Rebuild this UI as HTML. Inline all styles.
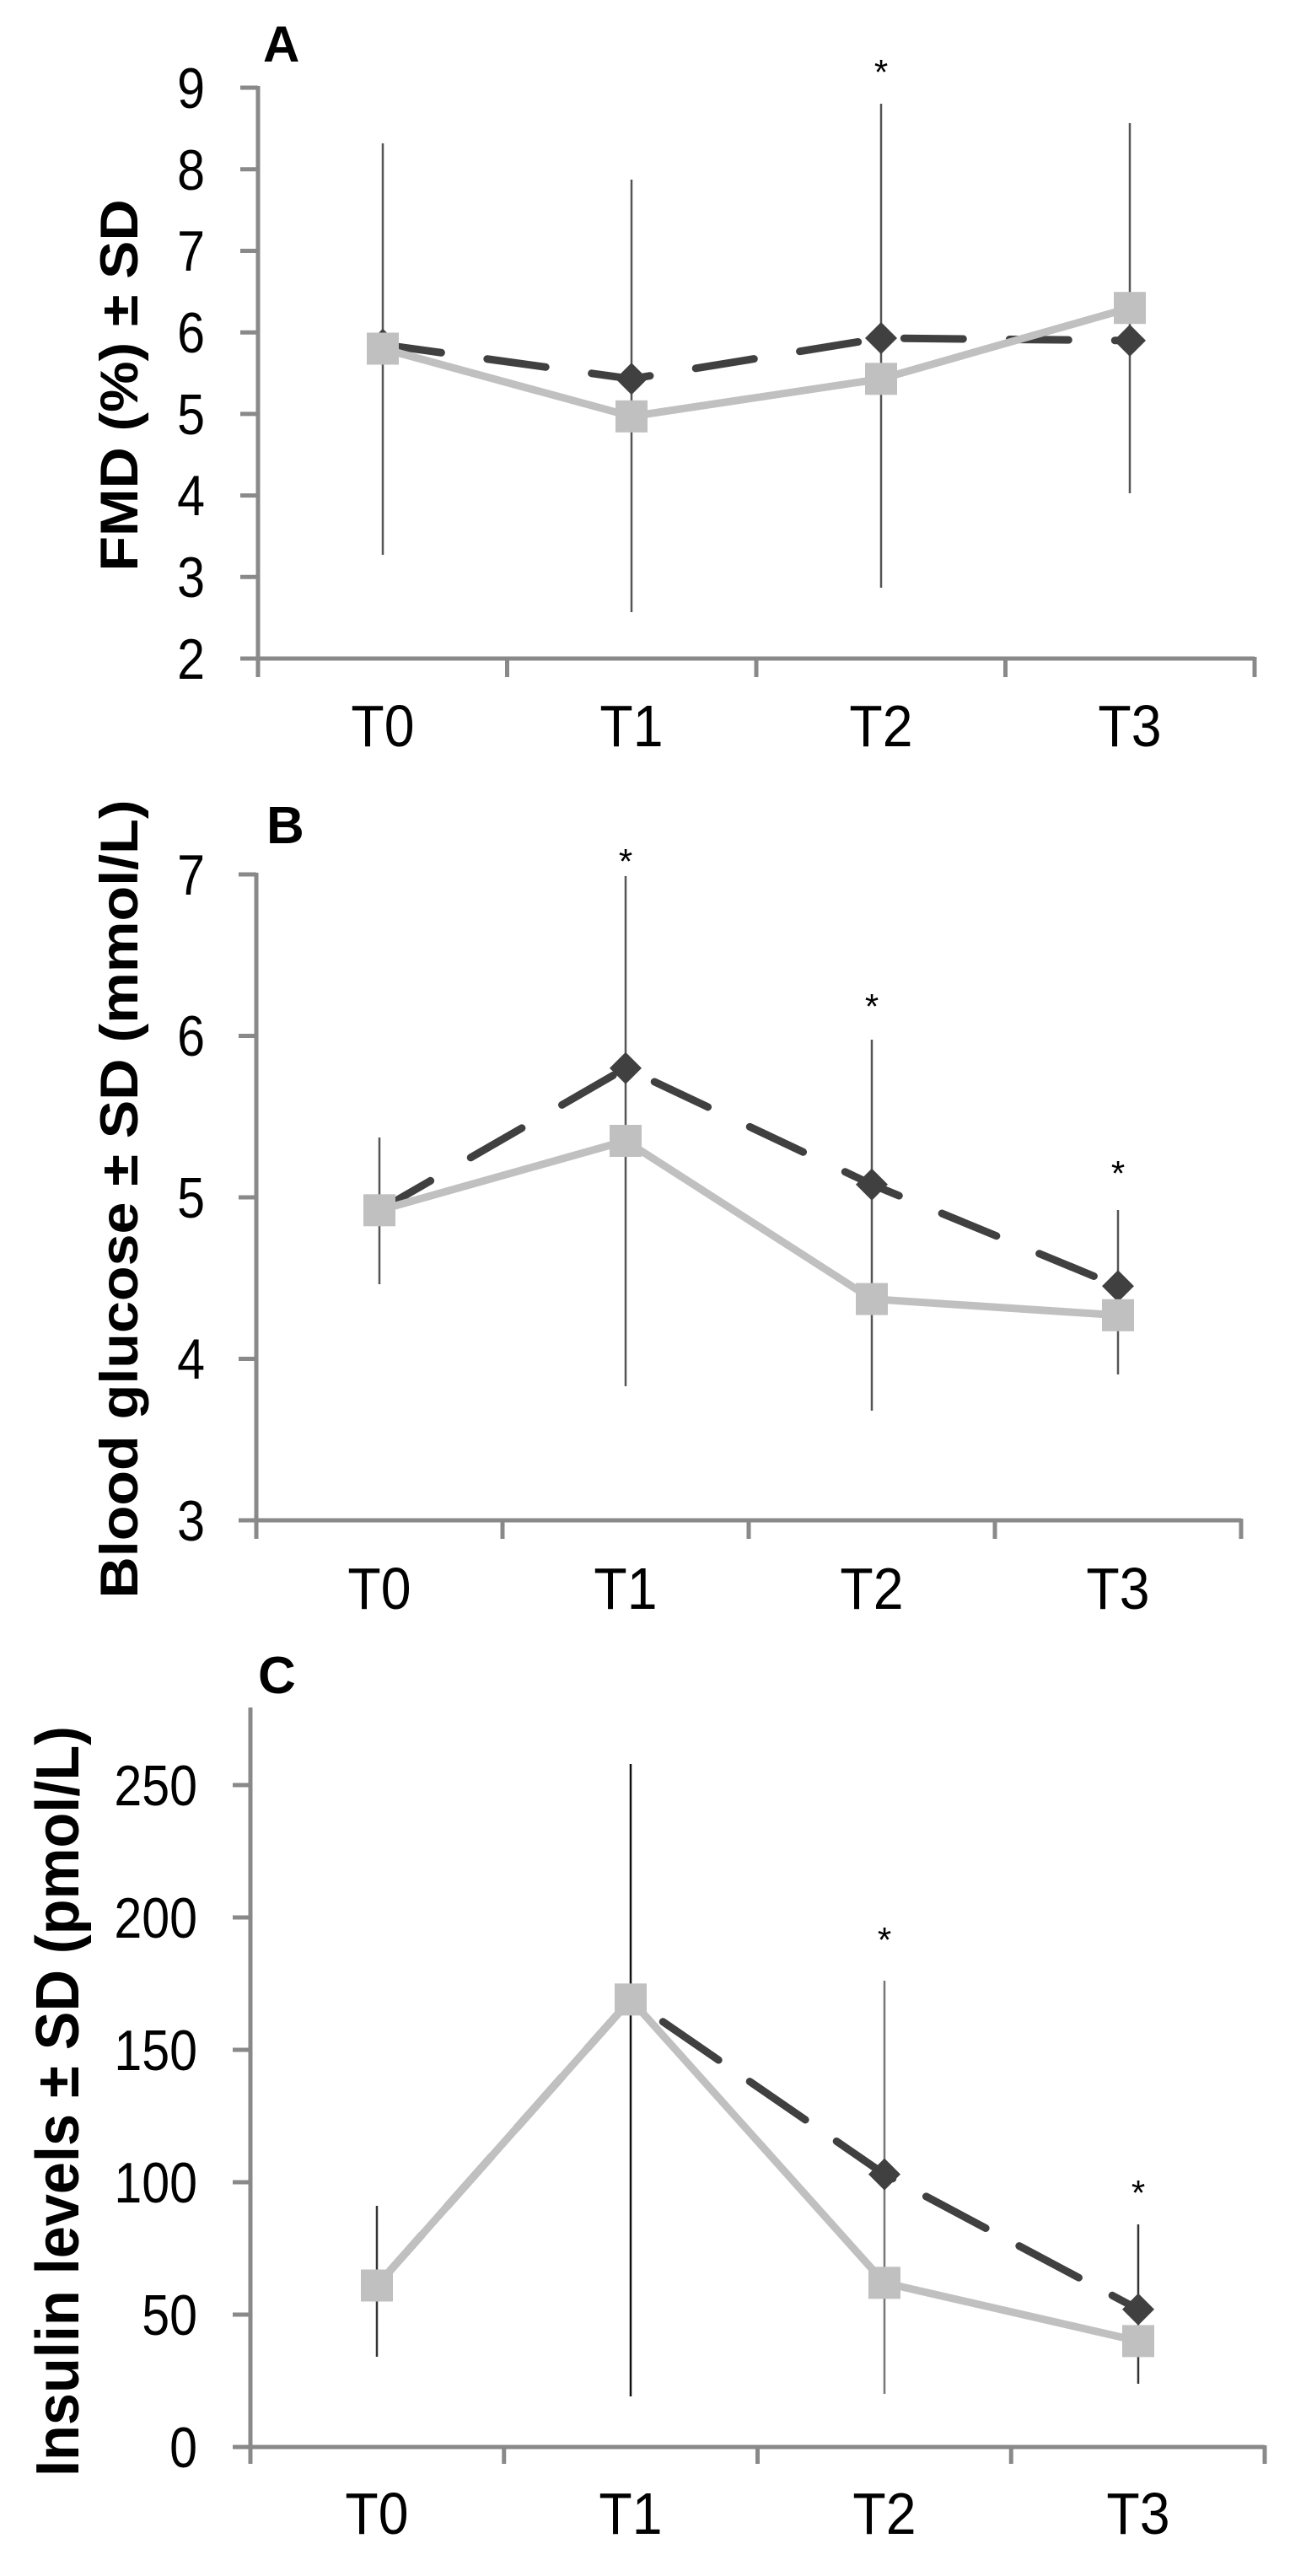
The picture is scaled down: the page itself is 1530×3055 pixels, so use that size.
<!DOCTYPE html>
<html><head><meta charset="utf-8"><style>html,body{margin:0;padding:0;background:#fff}svg{display:block}</style></head>
<body>
<svg width="1530" height="3055" viewBox="0 0 1530 3055" xmlns="http://www.w3.org/2000/svg" font-family="Liberation Sans, Arial, sans-serif">
<rect width="1530" height="3055" fill="#fff"/>

<!-- ===== PANEL A ===== -->
<g stroke="#898989" stroke-width="5" fill="none">
<line x1="306" y1="102" x2="306" y2="803"/>
<line x1="285" y1="781" x2="1488" y2="781"/>
<line x1="285" y1="104" x2="306" y2="104"/>
<line x1="285" y1="200.8" x2="306" y2="200.8"/>
<line x1="285" y1="297.5" x2="306" y2="297.5"/>
<line x1="285" y1="394.2" x2="306" y2="394.2"/>
<line x1="285" y1="490.9" x2="306" y2="490.9"/>
<line x1="285" y1="587.6" x2="306" y2="587.6"/>
<line x1="285" y1="684.3" x2="306" y2="684.3"/>
<line x1="601.5" y1="781" x2="601.5" y2="803"/>
<line x1="897" y1="781" x2="897" y2="803"/>
<line x1="1192.5" y1="781" x2="1192.5" y2="803"/>
<line x1="1488" y1="779" x2="1488" y2="803"/>
</g>
<g font-size="68" text-anchor="end" fill="#000">
<text transform="translate(243,128) scale(0.87,1)">9</text><text transform="translate(243,225) scale(0.87,1)">8</text><text transform="translate(243,321) scale(0.87,1)">7</text>
<text transform="translate(243,418) scale(0.87,1)">6</text><text transform="translate(243,515) scale(0.87,1)">5</text><text transform="translate(243,611) scale(0.87,1)">4</text>
<text transform="translate(243,708) scale(0.87,1)">3</text><text transform="translate(243,805) scale(0.87,1)">2</text>
</g>
<g font-size="70" text-anchor="middle" fill="#000">
<text transform="translate(454,885) scale(0.92,1)">T0</text><text transform="translate(749,885) scale(0.92,1)">T1</text><text transform="translate(1045,885) scale(0.92,1)">T2</text><text transform="translate(1340,885) scale(0.92,1)">T3</text>
</g>
<text x="312" y="73" font-size="60" font-weight="bold">A</text>
<text transform="translate(163,457) rotate(-90)" text-anchor="middle" font-size="63" font-weight="bold" textLength="441" lengthAdjust="spacingAndGlyphs">FMD (%) ± SD</text>
<g stroke="#555" stroke-width="2.5">
<line x1="454" y1="170" x2="454" y2="658"/>
<line x1="749" y1="213" x2="749" y2="726"/>
<line x1="1045" y1="123" x2="1045" y2="697"/>
<line x1="1340" y1="146" x2="1340" y2="585"/>
</g>
<polyline points="454,408.7 749,449.3 1045,401 1340,403.9" fill="none" stroke="#404040" stroke-width="9" stroke-dasharray="70,55" stroke-linecap="round"/>
<g fill="#404040">
<polygon points="454,389.7 473,408.7 454,427.7 435,408.7"/>
<polygon points="749,430.3 768,449.3 749,468.3 730,449.3"/>
<polygon points="1045,382 1064,401 1045,420 1026,401"/>
<polygon points="1340,384.9 1359,403.9 1340,422.9 1321,403.9"/>
</g>
<polyline points="454,413.5 749,493.8 1045,449.3 1340,365.2" fill="none" stroke="#c0c0c0" stroke-width="9"/>
<g fill="#c0c0c0">
<rect x="435" y="394.5" width="38" height="38"/>
<rect x="730" y="474.8" width="38" height="38"/>
<rect x="1026" y="430.3" width="38" height="38"/>
<rect x="1321" y="346.2" width="38" height="38"/>
</g>
<text x="1045" y="100" font-size="42" text-anchor="middle">*</text>

<!-- ===== PANEL B ===== -->
<g stroke="#898989" stroke-width="5" fill="none">
<line x1="304" y1="1035" x2="304" y2="1825"/>
<line x1="283" y1="1803" x2="1472" y2="1803"/>
<line x1="283" y1="1037" x2="304" y2="1037"/>
<line x1="283" y1="1228.5" x2="304" y2="1228.5"/>
<line x1="283" y1="1420" x2="304" y2="1420"/>
<line x1="283" y1="1611.5" x2="304" y2="1611.5"/>
<line x1="596" y1="1803" x2="596" y2="1825"/>
<line x1="888" y1="1803" x2="888" y2="1825"/>
<line x1="1180" y1="1803" x2="1180" y2="1825"/>
<line x1="1472" y1="1801" x2="1472" y2="1825"/>
</g>
<g font-size="68" text-anchor="end" fill="#000">
<text transform="translate(243,1061) scale(0.87,1)">7</text><text transform="translate(243,1252) scale(0.87,1)">6</text><text transform="translate(243,1444) scale(0.87,1)">5</text>
<text transform="translate(243,1635) scale(0.87,1)">4</text><text transform="translate(243,1827) scale(0.87,1)">3</text>
</g>
<g font-size="70" text-anchor="middle" fill="#000">
<text transform="translate(450,1908) scale(0.92,1)">T0</text><text transform="translate(742,1908) scale(0.92,1)">T1</text><text transform="translate(1034,1908) scale(0.92,1)">T2</text><text transform="translate(1326,1908) scale(0.92,1)">T3</text>
</g>
<text x="316" y="1000" font-size="62" font-weight="bold">B</text>
<text transform="translate(163,1422) rotate(-90)" text-anchor="middle" font-size="63" font-weight="bold" textLength="947" lengthAdjust="spacingAndGlyphs">Blood glucose ± SD (mmol/L)</text>
<g stroke="#555" stroke-width="2.5">
<line x1="450" y1="1349" x2="450" y2="1523"/>
<line x1="742" y1="1039" x2="742" y2="1644"/>
<line x1="1034" y1="1233" x2="1034" y2="1673"/>
<line x1="1326" y1="1435" x2="1326" y2="1630"/>
</g>
<polyline points="450,1435.3 742,1266.8 1034,1404.7 1326,1525.3" fill="none" stroke="#404040" stroke-width="9" stroke-dasharray="70,55" stroke-linecap="round"/>
<g fill="#404040">
<polygon points="450,1416.3 469,1435.3 450,1454.3 431,1435.3"/>
<polygon points="742,1247.8 761,1266.8 742,1285.8 723,1266.8"/>
<polygon points="1034,1385.7 1053,1404.7 1034,1423.7 1015,1404.7"/>
<polygon points="1326,1506.3 1345,1525.3 1326,1544.3 1307,1525.3"/>
</g>
<polyline points="450,1435.3 742,1353 1034,1540.6 1326,1559.8" fill="none" stroke="#c0c0c0" stroke-width="9"/>
<g fill="#c0c0c0">
<rect x="431" y="1416.3" width="38" height="38"/>
<rect x="723" y="1334" width="38" height="38"/>
<rect x="1015" y="1521.6" width="38" height="38"/>
<rect x="1307" y="1540.8" width="38" height="38"/>
</g>
<g font-size="42" text-anchor="middle">
<text x="742" y="1036">*</text><text x="1034" y="1208">*</text><text x="1326" y="1406">*</text>
</g>

<!-- ===== PANEL C ===== -->
<g stroke="#898989" stroke-width="5" fill="none">
<line x1="297" y1="2025" x2="297" y2="2922"/>
<line x1="276" y1="2902" x2="1500" y2="2902"/>
<line x1="276" y1="2117" x2="297" y2="2117"/>
<line x1="276" y1="2274" x2="297" y2="2274"/>
<line x1="276" y1="2431" x2="297" y2="2431"/>
<line x1="276" y1="2588" x2="297" y2="2588"/>
<line x1="276" y1="2745" x2="297" y2="2745"/>
<line x1="597.75" y1="2902" x2="597.75" y2="2922"/>
<line x1="898.5" y1="2902" x2="898.5" y2="2922"/>
<line x1="1199.25" y1="2902" x2="1199.25" y2="2922"/>
<line x1="1500" y1="2900" x2="1500" y2="2922"/>
</g>
<g font-size="68" text-anchor="end" fill="#000">
<text transform="translate(234,2141) scale(0.87,1)">250</text><text transform="translate(234,2298) scale(0.87,1)">200</text><text transform="translate(234,2455) scale(0.87,1)">150</text>
<text transform="translate(234,2612) scale(0.87,1)">100</text><text transform="translate(234,2769) scale(0.87,1)">50</text><text transform="translate(234,2926) scale(0.87,1)">0</text>
</g>
<g font-size="70" text-anchor="middle" fill="#000">
<text transform="translate(447,3005) scale(0.92,1)">T0</text><text transform="translate(748,3005) scale(0.92,1)">T1</text><text transform="translate(1049,3005) scale(0.92,1)">T2</text><text transform="translate(1350,3005) scale(0.92,1)">T3</text>
</g>
<text x="306" y="2008" font-size="62" font-weight="bold">C</text>
<text transform="translate(93,2492) rotate(-90)" text-anchor="middle" font-size="72" font-weight="bold" textLength="890" lengthAdjust="spacingAndGlyphs">Insulin levels ± SD (pmol/L)</text>
<g stroke="#333" stroke-width="2.5">
<line x1="447" y1="2616" x2="447" y2="2795"/>
<line x1="748" y1="2092" x2="748" y2="2842" stroke="#111"/>
<line x1="1049" y1="2349" x2="1049" y2="2839" stroke="#777"/>
<line x1="1350" y1="2638" x2="1350" y2="2827"/>
</g>
<polyline points="447,2710.5 748,2371.3 1049,2578.6 1350,2738.7" fill="none" stroke="#404040" stroke-width="9" stroke-dasharray="80,45" stroke-linecap="round"/>
<g fill="#404040">
<polygon points="1049,2559.6 1068,2578.6 1049,2597.6 1030,2578.6"/>
<polygon points="1350,2719.7 1369,2738.7 1350,2757.7 1331,2738.7"/>
</g>
<polyline points="447,2710.5 748,2371.3 1049,2707.3 1350,2776.4" fill="none" stroke="#c0c0c0" stroke-width="9"/>
<g fill="#c0c0c0">
<rect x="428" y="2691.5" width="38" height="38"/>
<rect x="729" y="2352.3" width="38" height="38"/>
<rect x="1030" y="2688.3" width="38" height="38"/>
<rect x="1331" y="2757.4" width="38" height="38"/>
</g>
<g font-size="42" text-anchor="middle">
<text x="1049" y="2315">*</text><text x="1350" y="2615">*</text>
</g>
</svg>
</body></html>
